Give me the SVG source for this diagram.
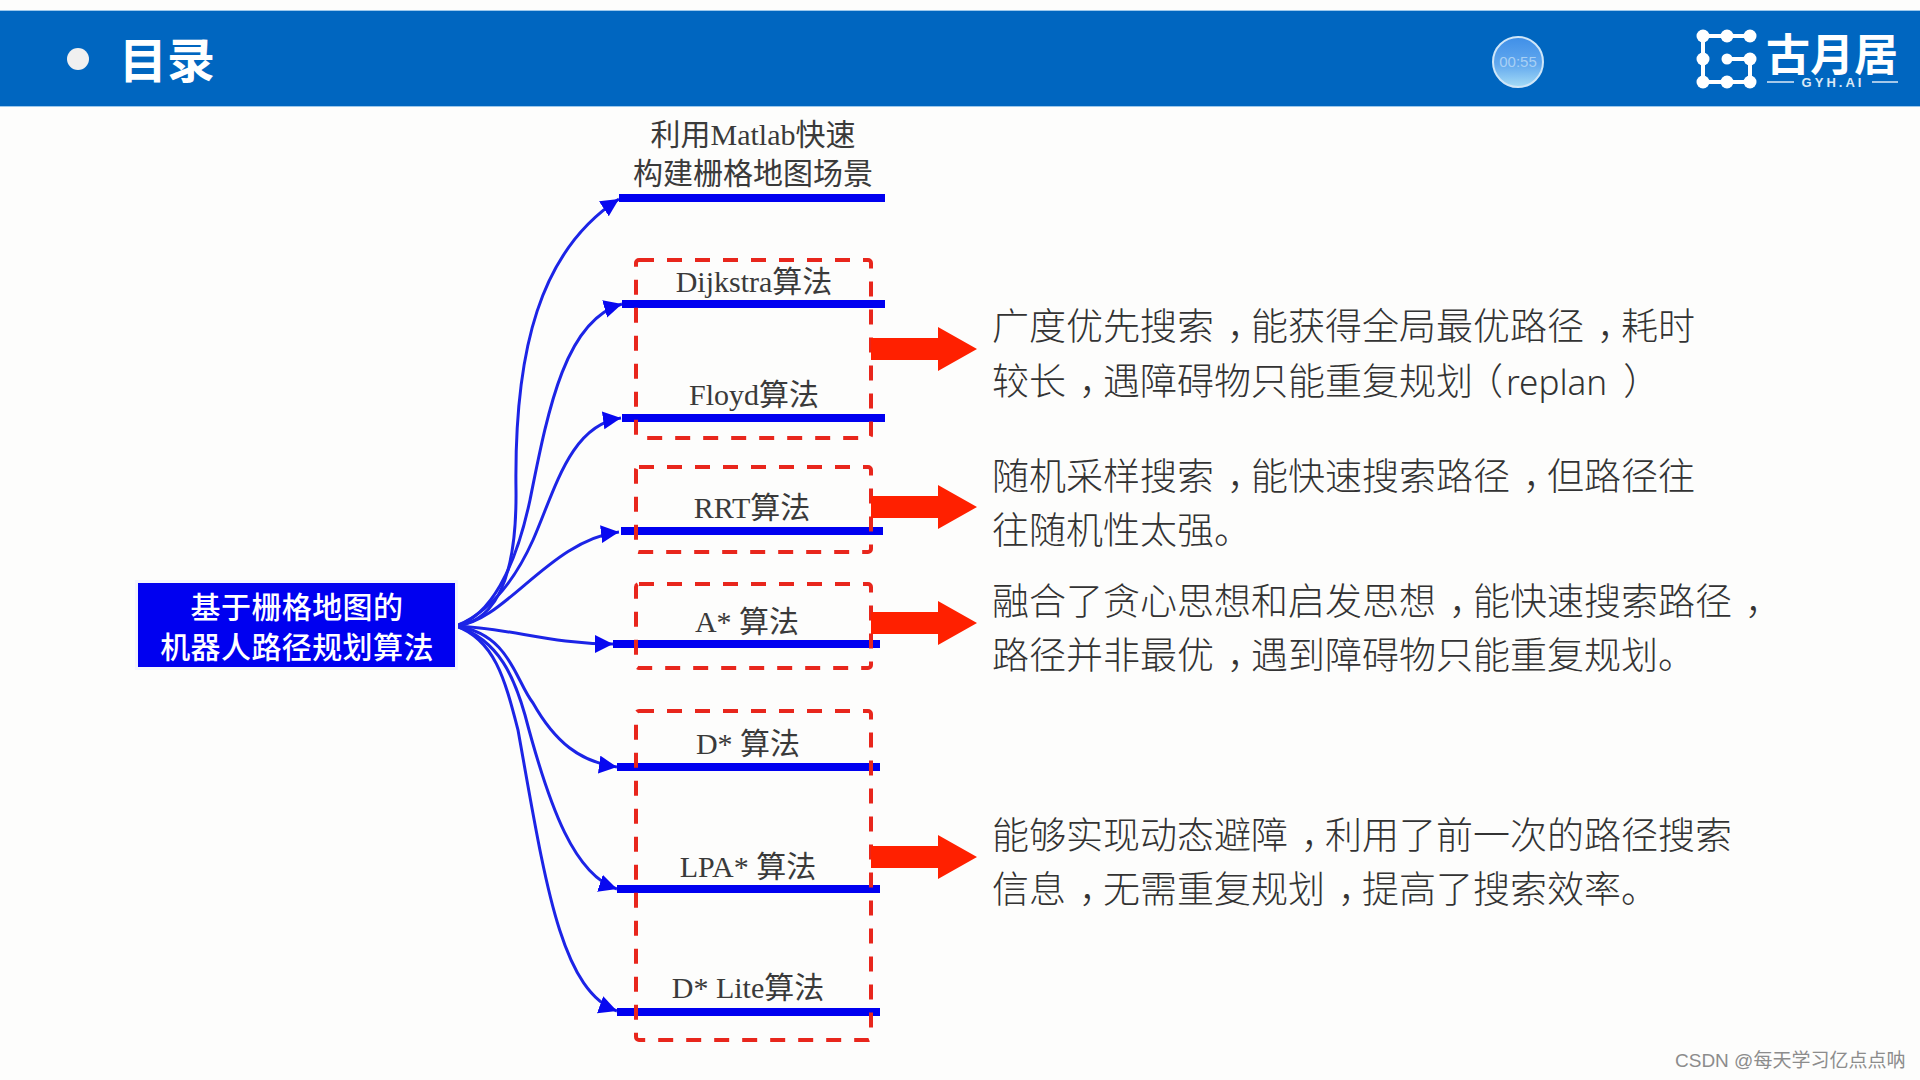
<svg xmlns="http://www.w3.org/2000/svg" width="1920" height="1080" viewBox="0 0 1920 1080">
<style>
.lbl{font-family:"Liberation Serif","Noto Sans CJK SC",serif;font-size:30px;fill:#3a3a3a;text-anchor:middle}
.desc{font-family:"Noto Sans CJK SC",sans-serif;font-size:37px;font-weight:300;fill:#333}
.desc .lat{font-family:"Noto Sans",sans-serif;font-size:35px;font-weight:300}
.box{font-family:"Noto Sans CJK SC",sans-serif;font-size:30px;font-weight:500;fill:#fff;text-anchor:middle;letter-spacing:.4px}
.cv{fill:none;stroke:#1c24e6;stroke-width:3;marker-end:url(#tip)}
.bar{stroke:#0000f0;stroke-width:8}
.dash{fill:none;stroke:#e8261c;stroke-width:4;stroke-dasharray:15 13}
.red{fill:#ff2000}
</style>
<defs>
<marker id="tip" markerUnits="userSpaceOnUse" markerWidth="20" markerHeight="20" refX="18" refY="9" orient="auto"><path d="M0 0L18 9L0 18Z" fill="#0808f0"/></marker>
<linearGradient id="clock" x1="0" y1="0" x2="0" y2="1"><stop offset="0" stop-color="#3f8fe8"/><stop offset="0.55" stop-color="#62a8ee"/><stop offset="1" stop-color="#a5dcf6"/></linearGradient>
</defs>
<rect width="1920" height="1080" fill="#fdfdfc"/>
<g id="header">
<rect y="10" width="1920" height="97" fill="#9cc8ec"/>
<rect y="11" width="1920" height="95" fill="#0066c0"/>
<circle cx="78" cy="59" r="11" fill="#f0f0f0"/>
<text x="119" y="78" font-family="'Noto Sans CJK SC',sans-serif" font-size="48" font-weight="700" fill="#fff">目录</text>
</g>
<g id="timer">
<circle cx="1518" cy="62" r="25" fill="url(#clock)" stroke="#cfe6f8" stroke-width="2"/>
<text x="1518" y="67" font-family="'Liberation Sans',sans-serif" font-size="15" fill="#a8d0f4" text-anchor="middle">00:55</text>
</g>
<g id="logo">
<g fill="none" stroke="#fff" stroke-width="4">
<path d="M1703 36H1750M1703 36V82H1750V59H1727"/>
</g>
<g fill="#fff">
<circle cx="1703" cy="36" r="6.5"/><circle cx="1727" cy="36" r="6.5"/><circle cx="1750" cy="36" r="6.5"/>
<circle cx="1703" cy="59" r="6.5"/><circle cx="1727" cy="59" r="5.5"/><circle cx="1750" cy="59" r="6.5"/>
<circle cx="1703" cy="82" r="6.5"/><circle cx="1727" cy="82" r="6.5"/><circle cx="1750" cy="82" r="6.5"/>
</g>
<text x="1766" y="71" font-family="'Noto Sans CJK SC',sans-serif" font-size="44" font-weight="700" fill="#fff">古月居</text>
<path d="M1767 82H1794M1872 82H1898" stroke="#dbe9f6" stroke-width="1.5"/>
<text x="1833" y="87" font-family="'Liberation Sans',sans-serif" font-size="13" font-weight="700" letter-spacing="3" fill="#dbe9f6" text-anchor="middle">GYH.AI</text>
</g>
<g id="connectors">
<path class="cv" d="M456 626C490 622 517 590 516 490C514 350 540 250 619 199"/>
<path class="cv" d="M456 626C490 616 515 570 530 500C548 410 565 320 622 304"/>
<path class="cv" d="M456 626C490 612 515 580 533 540C555 490 570 425 621 418"/>
<path class="cv" d="M456 626C505 622 550 540 619 532"/>
<path class="cv" d="M456 626C510 628 550 644 613 644"/>
<path class="cv" d="M456 626C510 634 515 680 533 703C555 742 580 762 617 767"/>
<path class="cv" d="M456 626C500 640 515 680 525 715C550 810 575 875 617 889"/>
<path class="cv" d="M456 626C495 640 505 680 518 730C545 880 560 990 617 1011"/>
<g id="bars">
<path class="bar" d="M619 198H885M622 304H885M622 418H885M621 531H883M613 644H880M617 767H880M617 889H880M617 1012H880"/>
</g>
</g>
<g id="root"><rect x="135" y="580" width="323" height="90" fill="#f3f4fe"/><rect x="138" y="583" width="317" height="84" fill="#0000f0"/><text class="box" x="297" y="618">基于栅格地图的</text><text class="box" x="297" y="658">机器人路径规划算法</text></g>
<g id="n-matlab"><text class="lbl" x="753" y="145">利用Matlab快速</text><text class="lbl" x="753" y="184">构建栅格地图场景</text></g>
<g id="n-dijkstra"><text class="lbl" x="754" y="292">Dijkstra算法</text></g>
<g id="n-floyd"><text class="lbl" x="754" y="405">Floyd算法</text></g>
<g id="n-rrt"><text class="lbl" x="752" y="518">RRT算法</text></g>
<g id="n-astar"><text class="lbl" x="747" y="632">A* 算法</text></g>
<g id="n-dstar"><text class="lbl" x="748" y="754">D* 算法</text></g>
<g id="n-lpa"><text class="lbl" x="748" y="877">LPA* 算法</text></g>
<g id="n-dlite"><text class="lbl" x="748" y="998">D* Lite算法</text></g>
<g id="groups">
<rect class="dash" x="636" y="260" width="235" height="178" rx="3"/>
<rect class="dash" x="636" y="467" width="235" height="85" rx="3"/>
<rect class="dash" x="636" y="584" width="235" height="84" rx="3"/>
<rect class="dash" x="636" y="711" width="235" height="329" rx="3"/>
</g>
<g id="red-arrows">
<path class="red" d="M871 338H938V327L977 349L938 371V360H871Z"/>
<path class="red" d="M871 496H938V485L977 507L938 529V518H871Z"/>
<path class="red" d="M871 612H938V601L977 623L938 645V634H871Z"/>
<path class="red" d="M871 846H938V835L977 857L938 879V868H871Z"/>
</g>
<g id="desc-1">
<text class="desc" x="992" y="340">广度优先搜索<tspan dx="13">，</tspan><tspan dx="-13">能获得全局最优路径</tspan><tspan dx="13">，</tspan><tspan dx="-13">耗时</tspan></text>
<text class="desc" x="992" y="395">较长<tspan dx="13">，</tspan><tspan dx="-13">遇障碍物只能重复规划</tspan><tspan dx="-7">（</tspan><tspan class="lat" dx="3">replan</tspan><tspan dx="16">）</tspan></text>
</g>
<g id="desc-2">
<text class="desc" x="992" y="490">随机采样搜索<tspan dx="13">，</tspan><tspan dx="-13">能快速搜索路径</tspan><tspan dx="13">，</tspan><tspan dx="-13">但路径往</tspan></text>
<text class="desc" x="992" y="544">往随机性太强。</text>
</g>
<g id="desc-3">
<text class="desc" x="992" y="615">融合了贪心思想和启发思想<tspan dx="13">，</tspan><tspan dx="-13">能快速搜索路径</tspan><tspan dx="13">，</tspan></text>
<text class="desc" x="992" y="669">路径并非最优<tspan dx="13">，</tspan><tspan dx="-13">遇到障碍物只能重复规划。</tspan></text>
</g>
<g id="desc-4">
<text class="desc" x="992" y="849">能够实现动态避障<tspan dx="13">，</tspan><tspan dx="-13">利用了前一次的路径搜索</tspan></text>
<text class="desc" x="992" y="903">信息<tspan dx="13">，</tspan><tspan dx="-13">无需重复规划</tspan><tspan dx="13">，</tspan><tspan dx="-13">提高了搜索效率。</tspan></text>
</g>
<text id="credit" x="1675" y="1067" font-family="'Liberation Sans','Noto Sans CJK SC',sans-serif" font-size="19" fill="#8c8c8c">CSDN @每天学习亿点点呐</text>
</svg>
